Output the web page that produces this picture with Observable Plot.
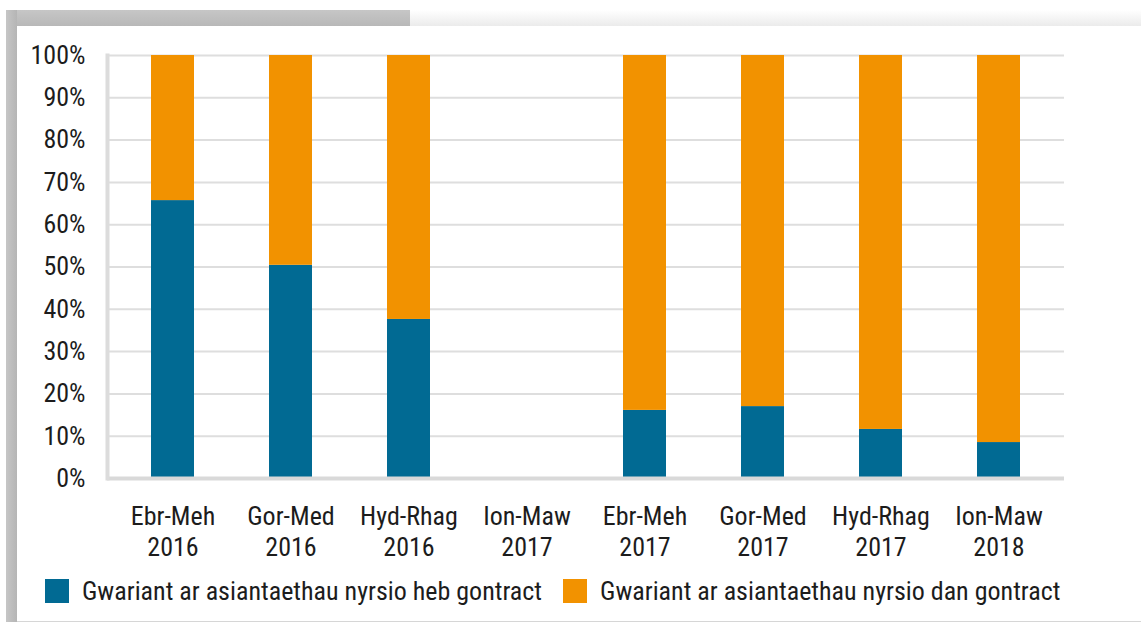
<!DOCTYPE html>
<html>
<head>
<meta charset="utf-8">
<script src="https://cdn.jsdelivr.net/npm/d3@7"></script>
<script src="https://cdn.jsdelivr.net/npm/@observablehq/plot@0.6"></script>
<style>
  html, body { margin: 0; padding: 0; background: #fff; }
  body { width: 1141px; height: 623px; position: relative; overflow: hidden;
         font-family: "Roboto Condensed", "Roboto", sans-serif; font-stretch: condensed; }
  .frame-top { position: absolute; left: 6px; top: 10px; width: 404px; height: 16px;
               background: linear-gradient(to bottom, #c6c6c6, #b8b8b8); }
  .frame-left { position: absolute; left: 6px; top: 10px; width: 11px; height: 612px;
                background: linear-gradient(to right, #c6c6c6, #b5b5b5); }
  .shade-top { position: absolute; left: 410px; top: 10px; width: 731px; height: 16px;
               background: linear-gradient(to bottom, #ffffff, #ebebeb); }
  .card { position: absolute; left: 17px; top: 26px; width: 1124px; height: 595px;
          background: #fff; border-bottom: 1px solid #d6d6d6; }
  #chart { position: absolute; left: 0; top: 0; }
  #chart svg text { font-stretch: condensed; }
  .legend { position: absolute; left: 45px; top: 575px; height: 32px; display: flex; align-items: center;
            font-size: 26px; color: #1c1c1c; white-space: nowrap; }
  .legend .item { display: flex; align-items: center; margin-right: 21px; }
  .legend .sw { width: 24px; height: 24px; margin-right: 13px; }
</style>
</head>
<body>
<div class="frame-top"></div>
<div class="frame-left"></div>
<div class="shade-top"></div>
<div class="card"></div>
<div id="chart"></div>
<div class="legend" id="legend"></div>
<script>
const periods = ["Ebr-Meh\n2016", "Gor-Med\n2016", "Hyd-Rhag\n2016", "Ion-Maw\n2017",
                 "Ebr-Meh\n2017", "Gor-Med\n2017", "Hyd-Rhag\n2017", "Ion-Maw\n2018"];
const hebGontract = [65.7, 50.4, 37.6, null, 16.1, 17.0, 11.6, 8.5];
const danGontract = [34.3, 49.6, 62.4, null, 83.9, 83.0, 88.4, 91.5];
const seriesNames = ["Gwariant ar asiantaethau nyrsio heb gontract",
                     "Gwariant ar asiantaethau nyrsio dan gontract"];
const seriesColors = ["#016a93", "#f29200"];
const yTicks = [0, 10, 20, 30, 40, 50, 60, 70, 80, 90, 100];

const rows = [];
periods.forEach((p, i) => {
  if (hebGontract[i] != null) rows.push({period: p, series: seriesNames[0], value: hebGontract[i]});
  if (danGontract[i] != null) rows.push({period: p, series: seriesNames[1], value: danGontract[i]});
});

const FONT = '"Roboto Condensed", "Roboto", sans-serif';
const chart = Plot.plot({
  width: 1141,
  height: 572,
  marginLeft: 107,
  marginRight: 77,
  marginTop: 55,
  marginBottom: 94,
  style: {fontFamily: FONT, fontSize: "26px", color: "#1c1c1c", background: "transparent"},
  x: {domain: periods, paddingInner: 0.637, paddingOuter: 0.364, label: null},
  y: {domain: [0, 100], label: null},
  color: {domain: seriesNames, range: seriesColors},
  marks: [
    Plot.gridY(yTicks, {stroke: "#dedede", strokeOpacity: 1, strokeWidth: 2}),
    Plot.barY(rows, {x: "period", y: "value", fill: "series", order: seriesNames}),
    Plot.ruleY([0], {stroke: "#d9d9d9", strokeWidth: 4}),
    Plot.frame({anchor: "left", stroke: "#dcdcdc", strokeWidth: 4}),
    Plot.axisY(yTicks, {tickSize: 0, tickPadding: 22, tickFormat: d => d + "%", fontSize: 26, fill: "#1c1c1c"}),
    Plot.axisX({tickSize: 0, tickPadding: 24, fontSize: 26, fill: "#1c1c1c", lineHeight: 1.2})
  ]
});
document.getElementById("chart").appendChild(chart);

const legend = document.getElementById("legend");
seriesNames.forEach((name, i) => {
  const item = document.createElement("div");
  item.className = "item";
  const sw = document.createElement("span");
  sw.className = "sw";
  sw.style.background = seriesColors[i];
  const t = document.createElement("span");
  t.textContent = name;
  item.appendChild(sw);
  item.appendChild(t);
  legend.appendChild(item);
});
</script>
</body>
</html>
